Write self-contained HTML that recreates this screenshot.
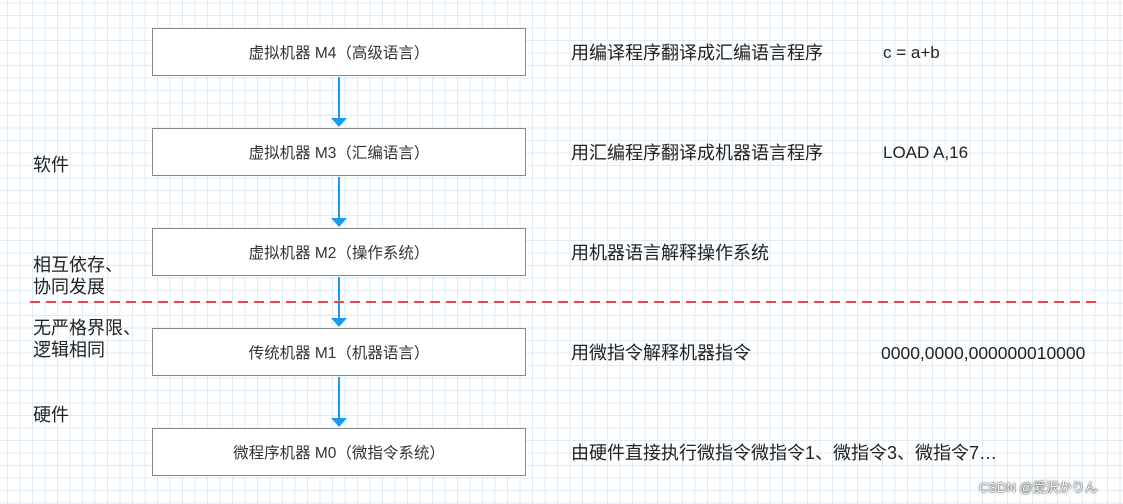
<!DOCTYPE html><html><head><meta charset="utf-8"><style>
body{margin:0;width:1123px;height:504px;overflow:hidden;position:relative;font-family:"Liberation Sans","Noto Sans CJK SC",sans-serif;
background-color:#fff;
background-image:linear-gradient(to right,#dcedf9 1.2px,transparent 1.2px),linear-gradient(to bottom,#dcedf9 1.2px,transparent 1.2px);
background-size:12.5px 12.5px;background-position:7px 2.5px;}
.b{position:absolute;left:152px;width:372px;height:46px;border:1.5px solid #888;background:#fff;display:flex;align-items:center;justify-content:center;font-size:15.5px;color:#333}
.t{position:absolute;font-size:18px;color:#222;white-space:nowrap;line-height:22px}
</style></head><body>
<svg width="1123" height="504" style="position:absolute;left:0;top:0">
<g stroke="#1a9bf0" stroke-width="2"><line x1="339" y1="77" x2="339" y2="120"/><line x1="339" y1="177" x2="339" y2="220"/><line x1="339" y1="277" x2="339" y2="320"/><line x1="339" y1="377" x2="339" y2="420"/></g>
<g fill="#1a9bf0"><path d="M331 118h16l-8 9z"/><path d="M331 218h16l-8 9z"/><path d="M331 318h16l-8 9z"/><path d="M331 418h16l-8 9z"/></g>
<line x1="30" y1="302" x2="1097" y2="302" stroke="#e84a4a" stroke-width="2" stroke-dasharray="10,6"/>
</svg>
<div class="b" style="top:28px">虚拟机器 M4（高级语言）</div>
<div class="b" style="top:128px">虚拟机器 M3（汇编语言）</div>
<div class="b" style="top:228px">虚拟机器 M2（操作系统）</div>
<div class="b" style="top:328px">传统机器 M1（机器语言）</div>
<div class="b" style="top:428px">微程序机器 M0（微指令系统）</div>
<div class="t" style="left:33px;top:154px">软件</div>
<div class="t" style="left:33px;top:254px">相互依存、<br>协同发展</div>
<div class="t" style="left:33px;top:317px">无严格界限、<br>逻辑相同</div>
<div class="t" style="left:33px;top:404px">硬件</div>
<div class="t" style="left:571px;top:42px">用编译程序翻译成汇编语言程序</div>
<div class="t" style="left:571px;top:142px">用汇编程序翻译成机器语言程序</div>
<div class="t" style="left:571px;top:242px">用机器语言解释操作系统</div>
<div class="t" style="left:571px;top:342px">用微指令解释机器指令</div>
<div class="t" style="left:571px;top:442px">由硬件直接执行微指令微指令1、微指令3、微指令7…</div>
<div class="t" style="left:883px;top:42px;font-size:17px">c = a+b</div>
<div class="t" style="left:883px;top:142px;font-size:17px">LOAD A,16</div>
<div class="t" style="left:881px;top:342px;font-size:17.5px">0000,0000,000000010000</div>
<div class="t" style="left:979px;top:477px;font-size:13px;color:#fff;text-shadow:0 0 2px #333,0 0 1px #333">CSDN @爱沢かりん</div>
</body></html>
